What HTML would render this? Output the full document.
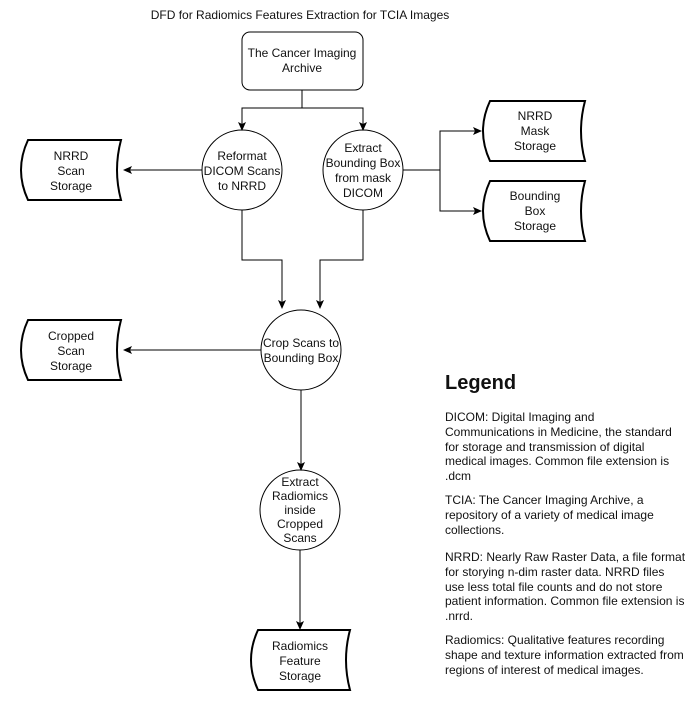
<!DOCTYPE html>
<html><head><meta charset="utf-8"><style>
html,body{margin:0;padding:0;background:#fff;width:690px;height:720px;overflow:hidden}
svg{position:absolute;left:0;top:0}
text{font-family:"Liberation Sans",Arial,sans-serif;font-size:12px;fill:#111}
.leg{position:absolute;left:445px;font-family:"Liberation Sans",Arial,sans-serif;font-size:12px;color:#111;line-height:14.8px;white-space:nowrap}
</style></head><body>
<svg width="690" height="720" viewBox="0 0 690 720">
<defs><marker id="a" markerWidth="10" markerHeight="10" refX="8" refY="4" orient="auto" markerUnits="userSpaceOnUse"><path d="M0,0 L9,4 L0,8 L2,4 z" fill="#000"/></marker></defs>
<g fill="none" stroke="#000" stroke-width="1">
<rect x="242" y="32" width="121" height="58" rx="8" ry="8"/>
<path d="M302,90 V108 H242 V130" marker-end="url(#a)"/>
<path d="M302,108 H363 V130" marker-end="url(#a)"/>
<circle cx="242" cy="170" r="40"/>
<circle cx="363" cy="170" r="40"/>
<path d="M202,170 H124" marker-end="url(#a)"/>
<path d="M403,170 H440 V131 H481" marker-end="url(#a)"/>
<path d="M440,170 V211 H481" marker-end="url(#a)"/>
<path d="M242,210 V260 H282 V308" marker-end="url(#a)"/>
<path d="M363,210 V260 H320 V308" marker-end="url(#a)"/>
<circle cx="301" cy="350" r="40"/>
<path d="M261,350 H124" marker-end="url(#a)"/>
<path d="M301,390 V470" marker-end="url(#a)"/>
<circle cx="300" cy="510" r="40"/>
<path d="M300,550 V629" marker-end="url(#a)"/>
</g>
<g fill="#fff" stroke="#000" stroke-width="2">
<path d="M28,140 H121 Q113,170 121,200 H28 Q14,170 28,140 Z"/>
<path d="M28,320 H121 Q113,350 121,380 H28 Q14,350 28,320 Z"/>
<path d="M490,101 H585 Q577,131 585,161 H490 Q476,131 490,101 Z"/>
<path d="M490,181 H585 Q577,211 585,241 H490 Q476,211 490,181 Z"/>
<path d="M258,630 H350 Q342,660 350,690 H258 Q244,660 258,630 Z"/>
</g>
<g text-anchor="middle">
<text x="300" y="19">DFD for Radiomics Features Extraction for TCIA Images</text>
<text x="302" y="57">The Cancer Imaging</text><text x="302" y="72">Archive</text>
<text x="242" y="160">Reformat</text><text x="242" y="175">DICOM Scans</text><text x="242" y="190">to NRRD</text>
<text x="363" y="152">Extract</text><text x="363" y="167">Bounding Box</text><text x="363" y="182">from mask</text><text x="363" y="197">DICOM</text>
<text x="71" y="160">NRRD</text><text x="71" y="175">Scan</text><text x="71" y="190">Storage</text>
<text x="535" y="120">NRRD</text><text x="535" y="135">Mask</text><text x="535" y="150">Storage</text>
<text x="535" y="200">Bounding</text><text x="535" y="215">Box</text><text x="535" y="230">Storage</text>
<text x="301" y="347">Crop Scans to</text><text x="301" y="362">Bounding Box</text>
<text x="71" y="340">Cropped</text><text x="71" y="355">Scan</text><text x="71" y="370">Storage</text>
<text x="300" y="486">Extract</text><text x="300" y="500">Radiomics</text><text x="300" y="514">inside</text><text x="300" y="528">Cropped</text><text x="300" y="542">Scans</text>
<text x="300" y="650">Radiomics</text><text x="300" y="665">Feature</text><text x="300" y="680">Storage</text>
</g>
<text x="445" y="389" style="font-size:20px;font-weight:bold">Legend</text>
</svg>
<div class="leg" style="top:410px">DICOM: Digital Imaging and<br>Communications in Medicine, the standard<br>for storage and transmission of digital<br>medical images. Common file extension is<br>.dcm</div>
<div class="leg" style="top:493px">TCIA: The Cancer Imaging Archive, a<br>repository of a variety of medical image<br>collections.</div>
<div class="leg" style="top:550px">NRRD: Nearly Raw Raster Data, a file format<br>for storying n-dim raster data. NRRD files<br>use less total file counts and do not store<br>patient information. Common file extension is<br>.nrrd.</div>
<div class="leg" style="top:633px">Radiomics: Qualitative features recording<br>shape and texture information extracted from<br>regions of interest of medical images.</div>
</body></html>
